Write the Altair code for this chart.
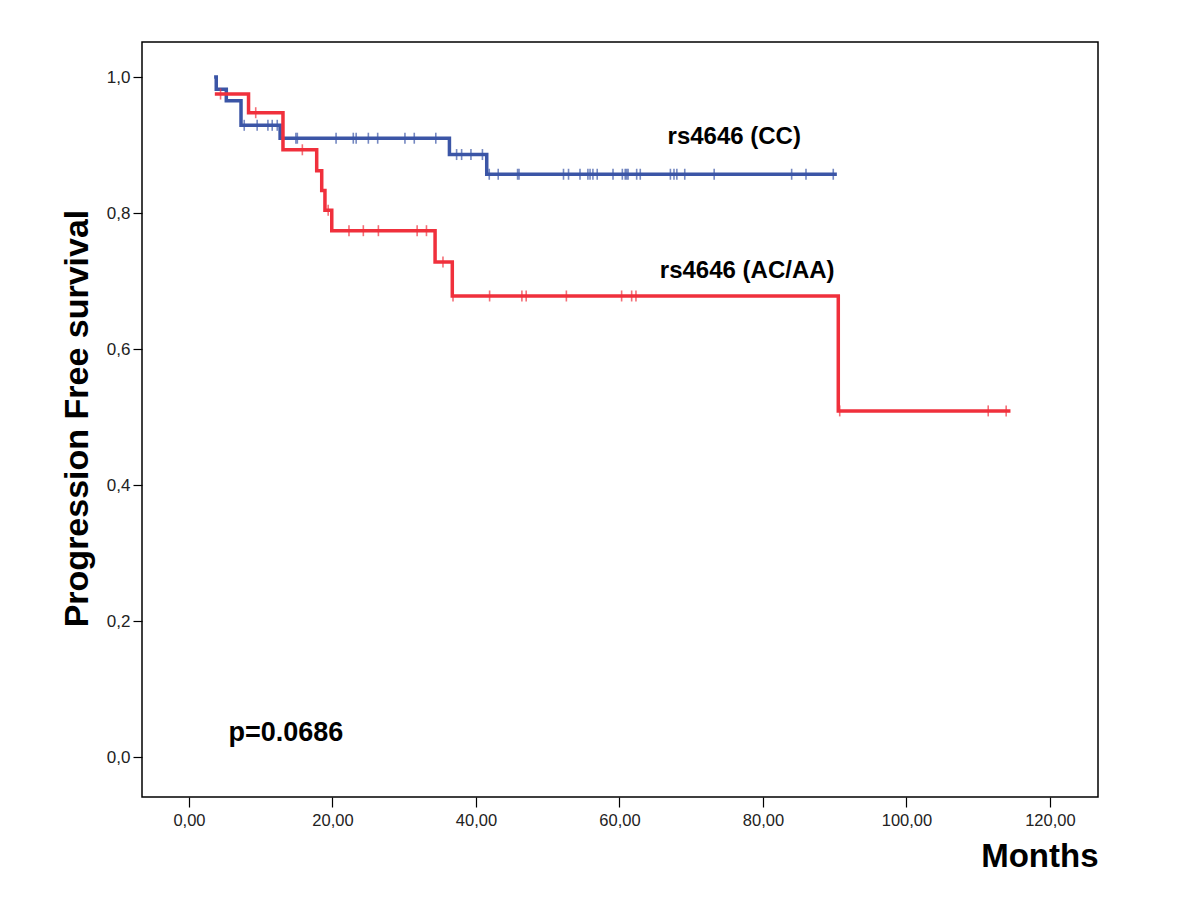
import altair as alt
import pandas as pd

# ---- data ----
groups = ["rs4646 (CC)", "rs4646 (AC/AA)"]
colors = ["#3b55a6", "#f0303c"]

# Kaplan-Meier step curves (time in months, survival after the step)
blue_t = [3.5, 3.8, 5.2, 7.25, 12.7, 36.3, 41.5, 90.3]
blue_s = [1.0, 0.982, 0.965, 0.929, 0.910, 0.886, 0.857, 0.857]
red_t = [3.6, 8.3, 13.1, 17.8, 18.5, 18.95, 19.9, 34.3, 36.7, 90.5, 114.5]
red_s = [0.975, 0.9475, 0.893, 0.862, 0.833, 0.804, 0.774, 0.728, 0.678, 0.509, 0.509]

# censored observations (months)
blue_cens = [7.7, 9.5, 11.0, 11.6, 12.3,
             14.9, 15.1, 20.5, 22.9, 23.3, 25.0, 26.3, 30.1, 31.4, 34.4,
             37.3, 38.0, 39.3, 40.9,
             41.85, 43.1, 45.8, 46.0, 52.2, 52.9, 54.5, 55.6, 55.9, 56.3, 56.9,
             59.1, 60.4, 60.8, 61.0, 61.2, 62.4, 62.9, 67.1, 67.6, 68.0, 69.1,
             73.2, 84.0, 86.0, 89.8]
red_cens = [4.4, 9.3, 15.8, 19.4, 22.3, 24.3, 26.4, 31.8, 33.1, 35.4,
            36.8, 41.9, 46.4, 47.0, 52.6, 60.3, 61.7, 62.3,
            90.7, 111.4, 113.9]

label_text = ["rs4646 (CC)", "rs4646 (AC/AA)", "p=0.0686"]
label_x = [76.0, 77.8, 13.5]
label_y = [0.912, 0.7154, 0.036]

x_ticks = [0, 20, 40, 60, 80, 100, 120]
y_ticks = [0.0, 0.2, 0.4, 0.6, 0.8, 1.0]
x_domain = [-6.55, 126.7]
y_domain = [-0.0588, 1.0515]


def level_at(ts, ss, t):
    v = ss[0]
    for ti, si in zip(ts, ss):
        if ti <= t:
            v = si
    return v


curve_rows = []
for g, ts, ss in [(groups[0], blue_t, blue_s), (groups[1], red_t, red_s)]:
    for i, (t, s) in enumerate(zip(ts, ss)):
        curve_rows.append({"group": g, "t": t, "s": s, "i": i})
curves = pd.DataFrame(curve_rows)

cens_rows = []
for g, ts, ss, cs in [(groups[0], blue_t, blue_s, blue_cens), (groups[1], red_t, red_s, red_cens)]:
    for c in cs:
        cens_rows.append({"group": g, "t": c, "s": level_at(ts, ss, c)})
cens = pd.DataFrame(cens_rows)

labels = pd.DataFrame({"text": label_text, "t": label_x, "s": label_y})

FONT = "Liberation Sans, Arial, sans-serif"

xscale = alt.Scale(domain=x_domain, nice=False, zero=False)
yscale = alt.Scale(domain=y_domain, nice=False, zero=False)
cscale = alt.Scale(domain=groups, range=colors)

xaxis = alt.Axis(
    values=x_ticks, title="Months", grid=False, domain=False,
    labelExpr="replace(format(datum.value, '.2f'), '.', ',')",
    tickSize=10, tickColor="black", tickWidth=1.2, labelPadding=5,
    labelFont=FONT, labelFontSize=16.5, labelColor="#222222",
    titleFont=FONT, titleFontSize=33, titleFontWeight="bold", titleColor="black",
    titleX=956, titleY=69, titleAlign="right", titleAnchor="end", titleBaseline="alphabetic",
)
yaxis = alt.Axis(
    values=y_ticks, title="Progression Free survival", grid=False, domain=False,
    labelExpr="replace(format(datum.value, '.1f'), '.', ',')",
    tickSize=9, tickColor="black", tickWidth=1.2, labelPadding=3,
    labelFont=FONT, labelFontSize=17, labelColor="#222222",
    titleFont=FONT, titleFontSize=34, titleFontWeight="bold", titleColor="black",
    titleX=-55, titleY=376, titleAngle=270, titleAlign="center", titleBaseline="alphabetic",
)

lines = alt.Chart(curves).mark_line(interpolate="step-after", strokeWidth=3.5).encode(
    x=alt.X("t:Q", scale=xscale, axis=xaxis),
    y=alt.Y("s:Q", scale=yscale, axis=yaxis),
    color=alt.Color("group:N", scale=cscale, legend=None),
    order=alt.Order("i:Q"),
)

ticks = alt.Chart(cens).mark_tick(orient="vertical", size=11, thickness=1.6).encode(
    x=alt.X("t:Q", scale=xscale),
    y=alt.Y("s:Q", scale=yscale),
    color=alt.Color("group:N", scale=cscale, legend=None),
)

texts = alt.Chart(labels).mark_text(
    font=FONT, fontSize=24, fontWeight="bold", color="black", align="center", baseline="middle"
).encode(
    x=alt.X("t:Q", scale=xscale),
    y=alt.Y("s:Q", scale=yscale),
    text="text:N",
)

p_text = texts.transform_filter(alt.datum.text == "p=0.0686").mark_text(
    font=FONT, fontSize=27, fontWeight="bold", color="black", align="center", baseline="middle"
)
curve_texts = texts.transform_filter(alt.datum.text != "p=0.0686")

chart = alt.layer(lines, ticks, curve_texts, p_text).properties(
    width=956, height=755,
    autosize=alt.AutoSizeParams(type="none"),
    padding={"left": 134, "top": 34, "right": 20, "bottom": 80},
    background="white",
).configure_view(stroke="black", strokeWidth=1.5)

chart.save("out.html", embed_options={"renderer": "svg", "actions": False})
